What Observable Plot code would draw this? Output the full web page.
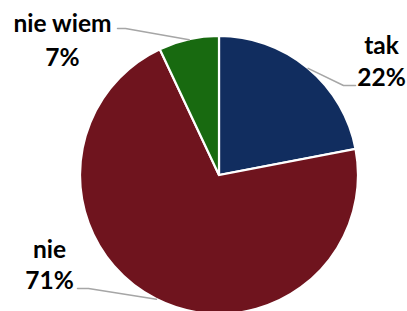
<!DOCTYPE html>
<html><head><meta charset="utf-8">
<script src="https://cdn.jsdelivr.net/npm/d3@7"></script>
<script src="https://cdn.jsdelivr.net/npm/@observablehq/plot@0.6"></script>
<style>html,body{margin:0;padding:0;background:#fff;overflow:hidden}</style>
</head><body><div id="chart"></div>
<script>
// data
const categories = ["tak", "nie", "nie wiem"];
const values = [22, 71, 7];
const valueLabels = ["22%", "71%", "7%"];
const colors = ["#112d5f", "#6f141e", "#186a10"];

// layout: pixel offsets from pie centre (y up), pie radius in px
const W = 407, H = 311, CX = 219, CY = 175, R = 139;
const labelLayout = [
  {tx: 162, ty1: 129, ty2: 97, bx: 124, by: 90, ex: 136, ey: 90},
  {tx: -170, ty1: -75, ty2: -106, bx: -131, by: -113, ex: -142, ey: -113},
  {tx: -157, ty1: 151, ty2: 117, bx: -94, by: 147, ex: -102, ey: 147}
];

const slices = categories.map((c, i) => ({category: c, value: values[i], label: valueLabels[i], color: colors[i]}));
const arcs = d3.pie().sort(null).value(d => d.value)(slices);

const u = v => v / R; // px offset -> unit-radius data coords
const textRows = [];
const leaders = [];
arcs.forEach((a, i) => {
  const L = labelLayout[i];
  textRows.push({x: u(L.tx), y: u(L.ty1), text: a.data.category});
  textRows.push({x: u(L.tx), y: u(L.ty2), text: a.data.label});
  const mid = (a.startAngle + a.endAngle) / 2;
  const r0 = 1.0;
  leaders.push({x: r0 * Math.sin(mid), y: r0 * Math.cos(mid), k: i});
  leaders.push({x: u(L.bx), y: u(L.by), k: i});
  leaders.push({x: u(L.ex), y: u(L.ey), k: i});
});

function pieMark(index, scales, values, dimensions, context) {
  const cx = scales.x(0), cy = scales.y(0);
  const r = scales.x(1) - scales.x(0);
  const arcGen = d3.arc().innerRadius(0).outerRadius(r);
  const g = d3.create("svg:g").attr("transform", `translate(${cx},${cy})`);
  g.selectAll("path").data(arcs).join("path")
    .attr("d", arcGen)
    .attr("fill", d => d.data.color)
    .attr("stroke", "#fff")
    .attr("stroke-width", 2.2)
    .attr("stroke-linejoin", "miter");
  return g.node();
}

const chart = Plot.plot({
  width: W, height: H,
  margin: 0,
  style: {background: "#fff", fontFamily: "Lato, 'Open Sans', sans-serif"},
  x: {domain: [-CX / R, (W - CX) / R], range: [0, W], axis: null},
  y: {domain: [-(H - CY) / R, CY / R], range: [H, 0], axis: null},
  marks: [
    pieMark,
    Plot.line(leaders, {x: "x", y: "y", z: "k", stroke: "#a6a6a6", strokeWidth: 1.5}),
    Plot.text(textRows, {x: "x", y: "y", text: "text", fontSize: 24.5, fontWeight: 700, fill: "#000"})
  ]
});
document.getElementById("chart").appendChild(chart);
</script>
</body></html>
